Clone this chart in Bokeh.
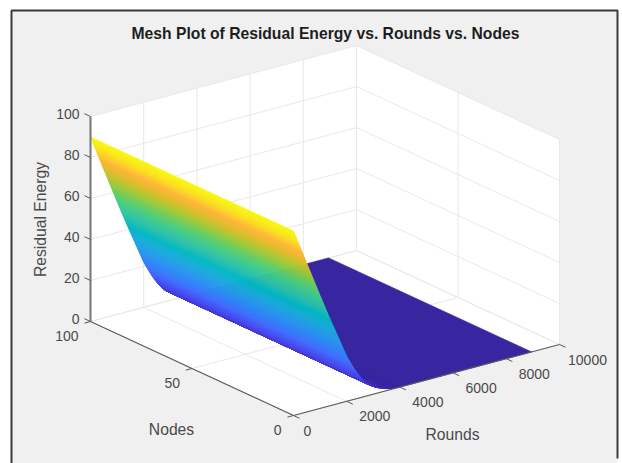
import numpy as np
from bokeh.plotting import figure
from bokeh.models import Range1d
from bokeh.embed import file_html
from bokeh.resources import INLINE

title = "Mesh Plot of Residual Energy vs. Rounds vs. Nodes"
x_label, y_label, z_label = "Rounds", "Nodes", "Residual Energy"
round_ticks = [0, 2000, 4000, 6000, 8000, 10000]
node_ticks = [0, 50, 100]
energy_ticks = [0, 20, 40, 60, 80, 100]

rounds = [0, 100, 200, 300, 400, 500, 600, 700, 800, 900, 1000, 1100, 1200, 1300,
          1400, 1500, 1600, 1700, 1800, 1900, 2000, 2100, 2200, 2300, 2400, 2500,
          2600, 2700, 2800, 2900, 3000, 3100, 3200, 3300, 3400, 3500, 3600, 3700,
          3800, 3900, 4000, 8950]
energy = [90, 86.5, 83, 79.5, 76, 72.5, 69, 65.5, 62, 58.5, 55, 51.6, 48.2, 44.8,
          41.5, 38.2, 35, 31.7, 28.5, 25.2, 22, 19.4, 16.9, 14.5, 12.3, 10.3,
          8.5, 6.9, 5.5, 4.6, 3.8, 3.0, 2.4, 1.9, 1.4, 1.0, 0.7, 0.5,
          0.3, 0.15, 0.05, 0]
nodes = [0, 100]

parula = [(56, 38, 160), (71, 55, 213), (71, 82, 244), (68, 111, 254), (47, 135, 247),
          (39, 155, 234), (25, 173, 219), (2, 184, 194), (44, 193, 169), (62, 204, 142),
          (100, 205, 99), (158, 202, 57), (215, 190, 39), (255, 180, 55), (250, 225, 30),
          (248, 248, 15)]


def proj(r, n, z):
    r, n, z = np.asarray(r, float), np.asarray(n, float), np.asarray(z, float)
    sx = 293 + r / 10000 * 266 - n / 100 * 203
    sy = 415 - r / 10000 * 71 - n / 100 * 94 - z * 2.05
    return sx, sy


def colour(z):
    t = np.clip(z / max(energy), 0, 1) * (len(parula) - 1)
    i = min(int(t), len(parula) - 2)
    f = t - i
    c = [round(parula[i][k] * (1 - f) + parula[i + 1][k] * f) for k in range(3)]
    return "#%02x%02x%02x" % tuple(c)


W, H = 622, 463
p = figure(width=W, height=H, output_backend="svg", toolbar_location=None,
           x_range=Range1d(0, W), y_range=Range1d(H, 0),
           min_border=0, outline_line_color=None, background_fill_color="white",
           border_fill_color="white")
p.axis.visible = False
p.grid.visible = False

# window frame: the picture is cut off below, so the frame has no bottom edge
p.patch([11, 617, 617, 11], [10, 10, 463, 463], fill_color="#f0f0f0", line_color=None)
p.line([11, 11, 617, 617], [463, 10, 10, 458], line_color="#3a3a3a", line_width=2)

# walls and floor
rmax, nmax, zmax = round_ticks[-1], node_ticks[-1], energy_ticks[-1]
wx, wy = proj([0, 0, rmax, rmax, rmax, 0], [nmax, nmax, nmax, 0, 0, 0], [0, zmax, zmax, zmax, 0, 0])
p.patch(list(wx), list(wy), fill_color="white", line_color=None)

grid = dict(line_color="#e8e8e8", line_width=1)
for r in round_ticks:
    x, y = proj([r, r, r], [0, nmax, nmax], [0, 0, zmax])
    p.line(list(x), list(y), **grid)
for n in node_ticks:
    x, y = proj([0, rmax, rmax], [n, n, n], [0, 0, zmax])
    p.line(list(x), list(y), **grid)
for z in energy_ticks:
    x, y = proj([0, rmax, rmax], [nmax, nmax, 0], [z, z, z])
    p.line(list(x), list(y), **grid)

# surface, far to near, with interpolated shading in each cell
xs, ys, cols = [], [], []
for i in range(len(rounds) - 2, -1, -1):
    r0, r1, z0, z1 = rounds[i], rounds[i + 1], energy[i], energy[i + 1]
    steps = 6 if z0 - z1 > 0.06 else 1
    for k in range(steps - 1, -1, -1):
        a, b = k / steps, (k + 1) / steps
        ra, rb = r0 + (r1 - r0) * a, r0 + (r1 - r0) * b
        za, zb = z0 + (z1 - z0) * a, z0 + (z1 - z0) * b
        x, y = proj([ra, rb, rb, ra], [nodes[0], nodes[0], nodes[1], nodes[1]], [za, zb, zb, za])
        xs.append(list(x)); ys.append(list(y)); cols.append(colour((za + zb) / 2))
p.patches(xs, ys, fill_color=cols, line_color=cols, line_width=0.7)

# axes
axc = "#5a5a5a"
x, y = proj([0, 0], [nmax, nmax], [0, zmax]); p.line(list(x), list(y), line_color="#777777", line_width=2)
x, y = proj([0, 0], [0, nmax], [0, 0]); p.line(list(x), list(y), line_color=axc, line_width=1.2)
x, y = proj([0, rmax], [0, 0], [0, 0]); p.line(list(x), list(y), line_color=axc, line_width=1.2)
for r in round_ticks:
    x, y = proj([r, r], [0, -3], [0, 0])
    p.line(list(x), list(y), line_color=axc, line_width=1)
for n in node_ticks:
    x, y = proj([0, -230], [n, n], [0, 0])
    p.line(list(x), list(y), line_color=axc, line_width=1)
for z in energy_ticks:
    x, y = proj([0, 0], [nmax, nmax + 3], [z, z])
    p.line(list(x), list(y), line_color=axc, line_width=1)

FONT = "Liberation Sans"
tc = "#4a4a4a"
def txt(x, y, s, size="14px", color=tc, align="center", angle=0, style="normal"):
    p.text([float(x)], [float(y)], text=[str(s)], text_font={"value": FONT},
           text_font_size={"value": size}, text_color=color, text_align=align,
           text_baseline="middle", angle=angle, text_font_style=style)

for r in round_ticks:
    x, y = proj(r, 0, 0)
    txt(x + 28 if r else x + 14, y + 15, r)
for n in node_ticks:
    x, y = proj(0, n, 0)
    txt(x - 12, y + 14, n, align="right")
for z in energy_ticks:
    x, y = proj(0, nmax, z)
    txt(79, y - 3, z, align="right")

txt(325, 33, title, size="15.7px", color="#1e1e1e", style="bold")
txt(452, 434, x_label, size="15.7px")
txt(171, 429, y_label, size="15.7px")
txt(40, 219, z_label, size="15.7px", angle=np.pi / 2)

open("out.html", "w").write(file_html(p, INLINE))
